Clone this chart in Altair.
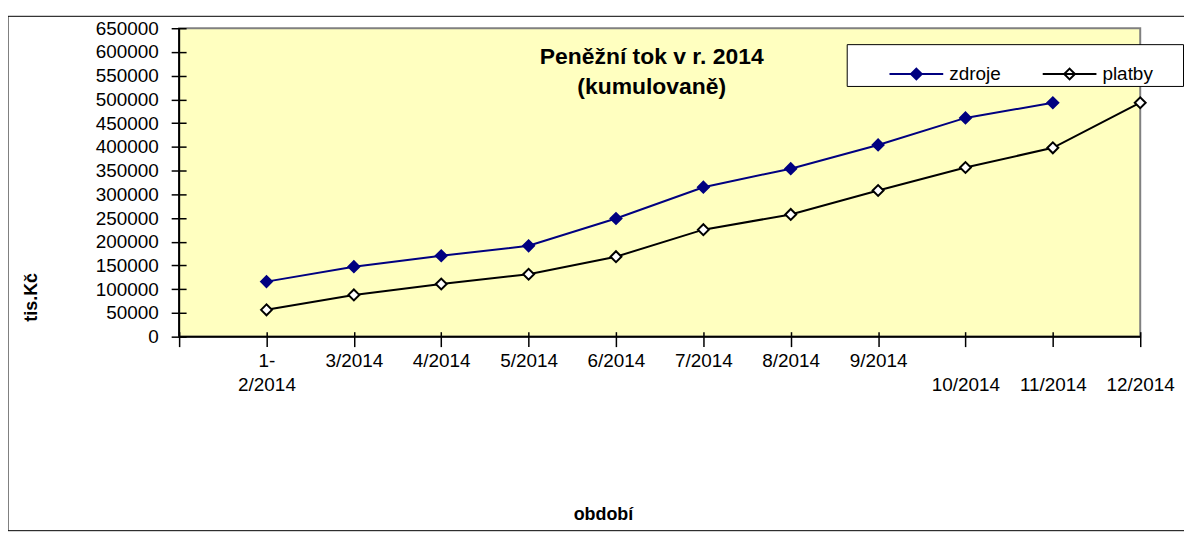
import json
import altair as alt
import pandas as pd

# ---- data ----
categories = ["1-2/2014", "3/2014", "4/2014", "5/2014", "6/2014", "7/2014",
              "8/2014", "9/2014", "10/2014", "11/2014", "12/2014"]
zdroje = [116000, 147500, 170500, 191500, 249000, 315000, 354000, 404000, 461000, 493000]
platby = [56500, 88000, 111000, 131500, 168500, 225500, 257500, 308000, 356500, 398000, 493000]
series_names = ["zdroje", "platby"]
y_ticks = list(range(0, 650001, 50000))
title_lines = ["Peněžní tok  v r. 2014", "(kumulovaně)"]
x_title = "období"
y_title = "tis.Kč"

split_labels = {"1-2/2014": ["1-", "2/2014"]}
low_labels = ["10/2014", "11/2014", "12/2014"]

rows = []
for c, v in zip(categories, zdroje):
    rows.append({"obdobi": c, "series": "zdroje", "value": v})
for c, v in zip(categories, platby):
    rows.append({"obdobi": c, "series": "platby", "value": v})
df = pd.DataFrame(rows)

FONT = "Liberation Sans"
x_domain = [" "] + categories
x_scale = alt.Scale(type="point", domain=x_domain, padding=0)
y_scale = alt.Scale(domain=[0, 650000], nice=False)

label_expr = ""
for k, parts in split_labels.items():
    label_expr += f"datum.label == {json.dumps(k)} ? {json.dumps(parts)} : "
label_expr += f"(indexof({json.dumps(low_labels)}, datum.label) >= 0 ? [' ', datum.label] : datum.label)"

x_axis = alt.Axis(
    orient="bottom", offset=-5, tickSize=15, tickWidth=1.5, tickColor="black",
    domain=False, grid=False, labelAngle=0, labelFont=FONT, labelFontSize=19,
    labelColor="black", labelBaseline="top", labelLineHeight=24, labelPadding=5,
    labelAlign="center", labelOverlap=False, labelExpr=label_expr,
    title=x_title, titleFont=FONT, titleFontSize=18, titleFontWeight="bold",
    titleColor="black", titleX=426, titleY=184, titleAlign="center",
    titleBaseline="middle",
)
y_axis = alt.Axis(
    orient="left", offset=-7, tickSize=15, tickWidth=1.5, tickColor="black",
    domain=False, grid=False, values=y_ticks, format="d", labelFont=FONT,
    labelFontSize=19, labelColor="black", labelPadding=13, labelFlush=False,
    labelOverlap=False,
    title=y_title, titleFont=FONT, titleFontSize=18, titleFontWeight="bold",
    titleColor="black", titleX=-155, titleY=270, titleAlign="center",
    titleBaseline="middle", titleAngle=-90,
)

x_enc = alt.X("obdobi:N", scale=x_scale, axis=x_axis)
y_enc = alt.Y("value:Q", scale=y_scale, axis=y_axis)

legend = alt.Legend(
    title=" ", titleOrient="right", titlePadding=28, titleFontSize=10,
    orient="none", legendX=671, legendY=16, direction="horizontal",
    fillColor="white", strokeColor="black", padding=2, zindex=1,
    symbolType="M-1,0L1,0M0,-0.2L0.2,0L0,0.2L-0.2,0Z",
    symbolSize=2916, symbolStrokeWidth=2, symbolOffset=40, labelOffset=5,
    labelFont=FONT, labelFontSize=19, labelColor="black", columnPadding=1,
)

stroke_enc = alt.Stroke(
    "series:N",
    scale=alt.Scale(domain=series_names, range=["#000080", "#000000"]),
    legend=legend,
)
fill_enc = alt.Fill(
    "series:N",
    scale=alt.Scale(domain=series_names, range=["#000080", "#FFFFFF"]),
    legend=legend,
)

base = alt.Chart(df)
lines = base.mark_line(strokeWidth=2).encode(x=x_enc, y=y_enc, stroke=stroke_enc,
                                             detail="series:N")
points = base.mark_point(shape="diamond", size=120, strokeWidth=2, filled=True,
                         opacity=1).encode(x=x_enc, y=y_enc, stroke=stroke_enc,
                                           fill=fill_enc)

one_row = alt.Data(values=[{}])
frame = alt.Chart(one_row).mark_rect(
    fill="transparent", stroke="black", strokeWidth=1
).encode(x=alt.value(-172), x2=alt.value(1030), y=alt.value(-12), y2=alt.value(505))

y0 = alt.Chart(one_row).mark_rule(color="black", strokeWidth=2).encode(
    x=alt.XDatum(datum=x_domain[0], scale=x_scale, axis=x_axis),
    y=alt.YDatum(datum=0, scale=y_scale, axis=y_axis),
    y2=alt.datum(650000),
)
x0 = alt.Chart(one_row).mark_rule(color="black", strokeWidth=2).encode(
    y=alt.YDatum(datum=0, scale=y_scale, axis=y_axis),
    x=alt.XDatum(datum=x_domain[0], scale=x_scale, axis=x_axis),
    x2=alt.datum(categories[-1]),
)

chart = alt.layer(lines, points, y0, x0, frame).properties(
    width=966, height=310,
    padding={"left": 172, "top": 19, "right": 44, "bottom": 196},
    autosize=alt.AutoSizeParams(type="none"),
    background="white",
    title=alt.TitleParams(
        text=title_lines, font=FONT, fontSize=23, fontWeight="bold", color="black",
        anchor="middle", offset=-84, dx=-8, lineHeight=31,
    ),
).configure_view(fill="#FFFFC0", stroke="#808080", strokeWidth=2)

chart.save("out.html", embed_options={"renderer": "svg", "actions": False})
